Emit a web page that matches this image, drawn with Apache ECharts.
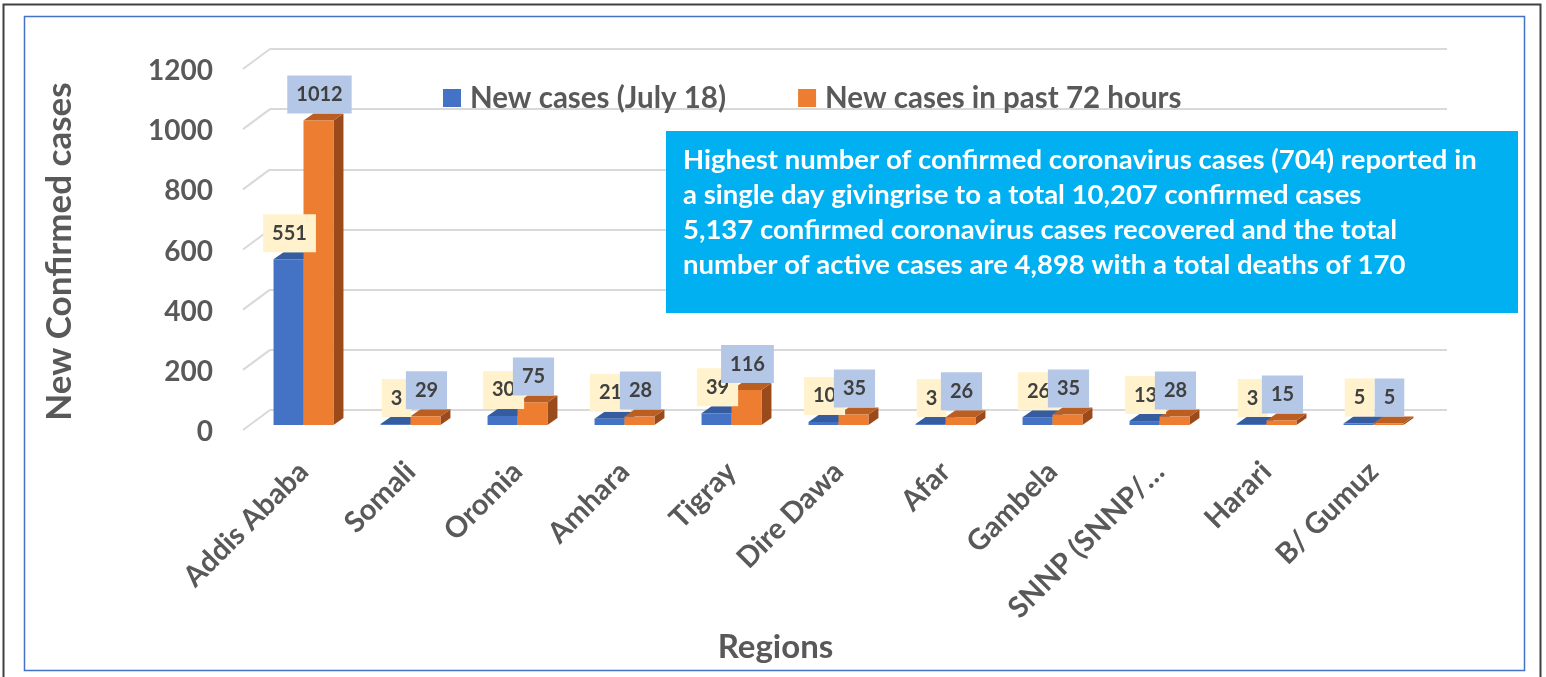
<!DOCTYPE html>
<html>
<head>
<meta charset="utf-8">
<script src="https://cdn.jsdelivr.net/npm/echarts@6/dist/echarts.min.js"></script>
<style>
  html, body { margin: 0; padding: 0; background: #fff; }
  #chart { width: 1546px; height: 677px; }
</style>
</head>
<body>
<div id="chart"></div>
<script>
// values
const regions = ['Addis Ababa', 'Somali', 'Oromia', 'Amhara', 'Tigray', 'Dire Dawa', 'Afar', 'Gambela', 'SNNP (SNNP/\u2026', 'Harari', 'B/ Gumuz'];
const newJuly18 = [551, 3, 30, 21, 39, 10, 3, 26, 13, 3, 5];
const past72h = [1012, 29, 75, 28, 116, 35, 26, 35, 28, 15, 5];
const yTicks = [0, 200, 400, 600, 800, 1000, 1200];
const noteLines = [
  'Highest number of confirmed coronavirus cases (704) reported in',
  'a single day givingrise to a total 10,207 confirmed cases',
  '5,137 confirmed coronavirus cases recovered and the total',
  'number of active cases are 4,898 with a total deaths of 170'
];

const FONT = 'Lato';
const GREY = '#595959';
const DEPTH_X = 10, DEPTH_Y = -7;

const chart = echarts.init(document.getElementById('chart'));

// bar drawn as a little box: front face, top face, right side
function barRenderer(side, front, top, right) {
  return function (params, api) {
    const idx = api.value(0);
    const v = api.value(1);
    const base = api.coord([idx, 0]);
    const tip = api.coord([idx, v]);
    const w = api.size([1, 0])[0] * 0.28;
    const x0 = side === 0 ? base[0] - w : base[0];
    const x1 = x0 + w;
    return {
      type: 'group',
      children: [
        { type: 'polygon', shape: { points: [[x1, tip[1]], [x1 + DEPTH_X, tip[1] + DEPTH_Y], [x1 + DEPTH_X, base[1] + DEPTH_Y], [x1, base[1]]] }, style: { fill: right } },
        { type: 'polygon', shape: { points: [[x0, tip[1]], [x1, tip[1]], [x1 + DEPTH_X, tip[1] + DEPTH_Y], [x0 + DEPTH_X, tip[1] + DEPTH_Y]] }, style: { fill: top } },
        { type: 'rect', shape: { x: x0, y: tip[1], width: w, height: Math.max(base[1] - tip[1], 0.5) }, style: { fill: front } }
      ]
    };
  };
}

function labelRenderer(side, bg) {
  return function (params, api) {
    const idx = api.value(0);
    const v = api.value(1);
    const base = api.coord([idx, 0]);
    const tip = api.coord([idx, v]);
    const w = api.size([1, 0])[0] * 0.28;
    const cx = side === 0 ? base[0] - w / 2 : base[0] + w / 2;
    return {
      type: 'text',
      x: cx + 1,
      y: tip[1] + DEPTH_Y,
      style: {
        text: String(v),
        fill: '#404040',
        font: 'bold 20px ' + FONT,
        lineHeight: 20,
        backgroundColor: bg,
        padding: [9, 9, 9, 9],
        align: 'center',
        verticalAlign: 'bottom'
      }
    };
  };
}

// short floor-side strokes joining the back wall gridlines to the front edge
function sideLines(params, api) {
  const y = api.coord([0, api.value(1)])[1];
  const x = params.coordSys.x;
  return {
    type: 'line',
    shape: { x1: x + 20, y1: y - 15, x2: x - 7, y2: y + 5 },
    style: { stroke: '#D9D9D9', lineWidth: 2 }
  };
}

const W = 1177, H = 361;

const option = {
  animation: false,
  grid: [
    { left: 270, top: 49, width: W, height: H },  // back wall
    { left: 250, top: 64, width: W, height: H },  // bar front plane
    { left: 243, top: 71, width: W, height: H }   // front edge (tick labels)
  ],
  legend: {
    left: 438,
    top: 78,
    itemWidth: 18,
    itemHeight: 18,
    itemGap: 72,
    icon: 'rect',
    data: ['New cases (July 18)', 'New cases in past 72 hours'],
    textStyle: { fontFamily: FONT, fontWeight: 'bold', fontSize: 29.5, color: GREY, padding: [0, 0, 0, 4] }
  },
  xAxis: [
    { type: 'category', gridIndex: 0, data: regions, show: false },
    {
      type: 'category', gridIndex: 1, data: regions,
      axisLine: { show: false }, axisTick: { show: false },
      axisLabel: { rotate: 45, margin: 42, interval: 0, fontFamily: FONT, fontWeight: 'bold', fontSize: 29, color: GREY },
      name: 'Regions', nameLocation: 'middle', nameGap: 202,
      nameTextStyle: { fontFamily: FONT, fontWeight: 'bold', fontSize: 33, color: GREY, padding: [0, 126, 0, 0] }
    },
    { type: 'category', gridIndex: 2, data: regions, show: false }
  ],
  yAxis: [
    {
      type: 'value', gridIndex: 0, min: 0, max: 1200, interval: 200,
      axisLabel: { show: false }, axisLine: { show: false }, axisTick: { show: false },
      splitLine: { lineStyle: { color: '#D9D9D9', width: 2 } }
    },
    { type: 'value', gridIndex: 1, min: 0, max: 1200, interval: 200, show: false, splitLine: { show: false } },
    {
      type: 'value', gridIndex: 2, min: 0, max: 1200, interval: 200,
      axisLine: { show: false }, axisTick: { show: false }, splitLine: { show: false },
      axisLabel: { margin: 30, formatter: v => String(v), fontFamily: FONT, fontWeight: 'bold', fontSize: 28, color: GREY },
      name: 'New Confirmed cases', nameLocation: 'middle', nameGap: 166,
      nameTextStyle: { fontFamily: FONT, fontWeight: 'bold', fontSize: 35, color: GREY }
    }
  ],
  series: [
    {
      type: 'custom', name: 'grid sides', xAxisIndex: 1, yAxisIndex: 1, z: 1,
      renderItem: sideLines, data: yTicks.map(v => [0, v]), silent: true
    },
    {
      type: 'custom', name: 'New cases (July 18)', xAxisIndex: 1, yAxisIndex: 1, z: 2,
      itemStyle: { color: '#4472C4' },
      renderItem: barRenderer(0, '#4472C4', '#355C9E', '#2E4F8C'),
      data: newJuly18.map((v, i) => [i, v])
    },
    {
      type: 'custom', name: 'New cases in past 72 hours', xAxisIndex: 1, yAxisIndex: 1, z: 2,
      itemStyle: { color: '#ED7D31' },
      renderItem: barRenderer(1, '#ED7D31', '#BA5E21', '#9B4A1B'),
      data: past72h.map((v, i) => [i, v])
    },
    {
      type: 'custom', name: 'New cases (July 18)', xAxisIndex: 1, yAxisIndex: 1, z: 3,
      itemStyle: { color: '#4472C4' },
      renderItem: labelRenderer(0, '#FFF2CC'),
      data: newJuly18.map((v, i) => [i, v])
    },
    {
      type: 'custom', name: 'New cases in past 72 hours', xAxisIndex: 1, yAxisIndex: 1, z: 4,
      itemStyle: { color: '#ED7D31' },
      renderItem: labelRenderer(1, '#B4C7E7'),
      data: past72h.map((v, i) => [i, v])
    }
  ],
  graphic: [
    { type: 'rect', shape: { x: 3.5, y: 4.5, width: 1537, height: 690 }, style: { fill: 'none', stroke: '#404040', lineWidth: 2 }, z: 0, silent: true },
    { type: 'rect', shape: { x: 24.5, y: 16.5, width: 1500, height: 654 }, style: { fill: 'none', stroke: '#4472C4', lineWidth: 1.5 }, z: 0, silent: true },
    {
      type: 'group', left: 666, top: 131, zlevel: 1,
      children: [
        { type: 'rect', z: 100, shape: { x: 0, y: 0, width: 852, height: 182 }, style: { fill: '#00B0F0' } },
        {
          type: 'text', z: 101, x: 17, y: 12,
          style: { text: noteLines.join('\n'), fill: '#FFFFFF', font: 'bold 27.5px ' + FONT, lineHeight: 35 }
        }
      ]
    }
  ]
};

chart.setOption(option);
</script>
</body>
</html>
